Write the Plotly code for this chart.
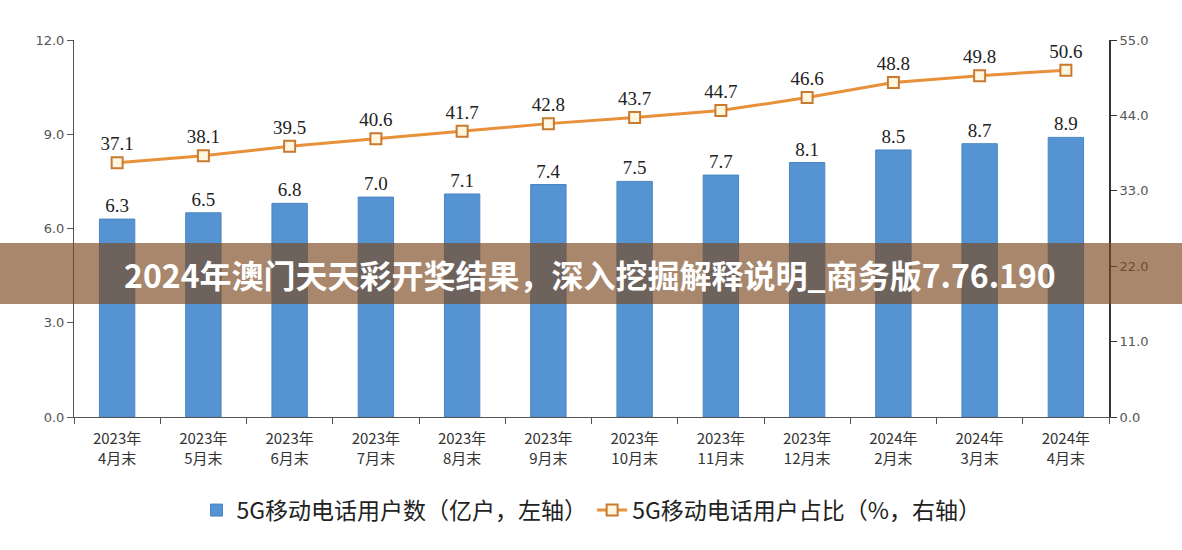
import plotly.graph_objects as go

categories = ["2023年<br>4月末", "2023年<br>5月末", "2023年<br>6月末", "2023年<br>7月末",
              "2023年<br>8月末", "2023年<br>9月末", "2023年<br>10月末", "2023年<br>11月末",
              "2023年<br>12月末", "2024年<br>2月末", "2024年<br>3月末", "2024年<br>4月末"]
users = [6.3, 6.5, 6.8, 7.0, 7.1, 7.4, 7.5, 7.7, 8.1, 8.5, 8.7, 8.9]
share = [37.1, 38.1, 39.5, 40.6, 41.7, 42.8, 43.7, 44.7, 46.6, 48.8, 49.8, 50.6]
left_ticks = [0, 3, 6, 9, 12]
right_ticks = [0, 11, 22, 33, 44, 55]
bar_name = "5G移动电话用户数（亿户，左轴）"
line_name = "5G移动电话用户占比（%，右轴）"
banner = "2024年澳门天天彩开奖结果，深入挖掘解释说明_商务版7.76.190"

fig = go.Figure()
fig.add_trace(go.Bar(
    x=categories, y=users, name=bar_name, width=0.41,
    marker=dict(color="#5593D3", line=dict(color="#4A86C4", width=1)),
    text=[f"{v:.1f}" for v in users], textposition="outside",
    textfont=dict(family="Liberation Serif", size=19, color="#222"),
    cliponaxis=False,
))
fig.add_trace(go.Scatter(
    x=categories, y=share, name=line_name, yaxis="y2",
    mode="lines+markers+text",
    line=dict(color="#E8903A", width=3),
    marker=dict(symbol="square", size=11, color="#FFF6E0", line=dict(color="#C77A30", width=2)),
    text=[f"{v:.1f}" for v in share], textposition="top center",
    textfont=dict(family="Liberation Serif", size=19, color="#222"),
    cliponaxis=False,
))

axis_font = dict(family="DejaVu Sans", size=13, color="#555")
fig.update_layout(
    width=1182, height=550,
    margin=dict(l=74, r=73, t=40, b=133),
    paper_bgcolor="white", plot_bgcolor="white",
    showlegend=True,
    legend=dict(orientation="h", x=0.5, xanchor="center", y=-0.19, yanchor="top",
                font=dict(family="Noto Sans CJK SC", size=23, color="#222"),
                tracegroupgap=0),
    xaxis=dict(type="category", tickson="boundaries", ticks="outside", ticklen=6,
               tickcolor="#555", showline=True, linecolor="#555", linewidth=1,
               tickfont=dict(family="Noto Sans CJK SC", size=15, color="#333"),
               ticklabelstandoff=8,
               showgrid=False, range=[-0.5, 11.5]),
    yaxis=dict(range=[0, 12], tickvals=left_ticks, ticktext=[f"{v:.1f}" for v in left_ticks],
               ticks="outside", ticklen=6, tickcolor="#555", showline=True, linecolor="#555",
               linewidth=1, showgrid=False, zeroline=False, tickfont=axis_font),
    yaxis2=dict(range=[0, 55], tickvals=right_ticks, ticktext=[f"{v:.1f}" for v in right_ticks],
                overlaying="y", side="right", ticks="outside", ticklen=6, tickcolor="#333",
                showline=True, linecolor="#333", linewidth=2, showgrid=False, zeroline=False,
                tickfont=axis_font),
    shapes=[dict(type="rect", xref="paper", yref="paper", x0=-0.08, x1=1.08,
                 y0=0.2997, y1=0.4615, fillcolor="rgba(123,73,32,0.66)",
                 line=dict(width=0), layer="above")],
    annotations=[dict(text=banner, xref="paper", yref="paper", x=(590 - 74) / 1035, y=(417 - 274) / 377,
                      showarrow=False, xanchor="center", yanchor="middle",
                      font=dict(family="Noto Sans CJK SC", size=32, color="white", weight="bold"))],
)
fig.write_html("out.html", config={"displayModeBar": False},
               post_script="document.body.style.margin='0';")
